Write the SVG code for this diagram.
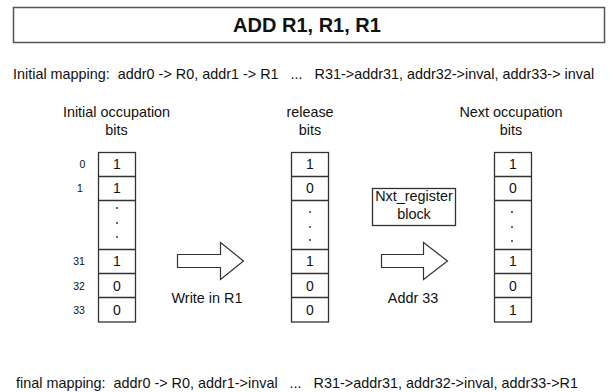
<svg xmlns="http://www.w3.org/2000/svg" width="614" height="392" viewBox="0 0 614 392">
<style>
text{font-family:"Liberation Sans",Arial,sans-serif;fill:#111}
.lbl{font-size:14.4px;text-anchor:middle}
.cell{font-size:14px;text-anchor:middle}
.idx{font-size:10.5px;text-anchor:middle}
.map{font-size:14.4px;white-space:pre}
.box{fill:#fff;stroke:#333;stroke-width:1.3}
.arrow{fill:#fff;stroke:#333;stroke-width:1.2;stroke-linejoin:miter}
.dot{fill:#222}
</style>
<rect width="614" height="392" fill="#fff"/>
<g id="title">
<rect x="13.5" y="7.5" width="591" height="35" fill="#fff" stroke="#555" stroke-width="1.5"/>
<text x="307" y="31.5" font-size="20" font-weight="bold" text-anchor="middle">ADD R1, R1, R1</text>
</g>
<g id="initial-mapping">
<text class="map" x="13" y="78.5" xml:space="preserve">Initial mapping:  addr0 -&gt; R0, addr1 -&gt; R1   ...   R31-&gt;addr31, addr32-&gt;inval, addr33-&gt; inval</text>
</g>
<g id="initial-bits">
<text class="lbl" x="116.5" y="117">Initial occupation</text>
<text class="lbl" x="116.5" y="135">bits</text>
<rect class="box" x="98.5" y="152.5" width="37" height="169.5"/>
<path d="M98.5 176.5H135.5M98.5 200.5H135.5M98.5 249.5H135.5M98.5 273.5H135.5M98.5 297.5H135.5" stroke="#333" stroke-width="1.3" fill="none"/>
<text class="cell" x="117" y="169">1</text>
<text class="cell" x="117" y="193">1</text>
<circle class="dot" cx="117" cy="208" r="0.9"/><circle class="dot" cx="117" cy="223" r="0.9"/><circle class="dot" cx="117" cy="237" r="0.9"/>
<text class="cell" x="117" y="266">1</text>
<text class="cell" x="117" y="290.5">0</text>
<text class="cell" x="117" y="314.5">0</text>
<text class="idx" x="82.5" y="168">0</text>
<text class="idx" x="80" y="192">1</text>
<text class="idx" x="79" y="265">31</text>
<text class="idx" x="79" y="289.5">32</text>
<text class="idx" x="79" y="313.5">33</text>
</g>
<g id="release-bits">
<text class="lbl" x="310" y="117">release</text>
<text class="lbl" x="310" y="135">bits</text>
<rect class="box" x="291.5" y="152.5" width="37" height="169.5"/>
<path d="M291.5 176.5H328.5M291.5 200.5H328.5M291.5 249.5H328.5M291.5 273.5H328.5M291.5 297.5H328.5" stroke="#333" stroke-width="1.3" fill="none"/>
<text class="cell" x="310" y="169">1</text>
<text class="cell" x="310" y="193">0</text>
<circle class="dot" cx="310" cy="212" r="0.9"/><circle class="dot" cx="310" cy="227" r="0.9"/><circle class="dot" cx="310" cy="240" r="0.9"/>
<text class="cell" x="310" y="266">1</text>
<text class="cell" x="310" y="290.5">0</text>
<text class="cell" x="310" y="314.5">0</text>
</g>
<g id="next-bits">
<text class="lbl" x="511" y="117">Next occupation</text>
<text class="lbl" x="511" y="135">bits</text>
<rect class="box" x="494.5" y="152.5" width="37" height="169.5"/>
<path d="M494.5 176.5H531.5M494.5 200.5H531.5M494.5 249.5H531.5M494.5 273.5H531.5M494.5 297.5H531.5" stroke="#333" stroke-width="1.3" fill="none"/>
<text class="cell" x="513" y="169">1</text>
<text class="cell" x="513" y="193">0</text>
<circle class="dot" cx="512" cy="212" r="0.9"/><circle class="dot" cx="512" cy="227" r="0.9"/><circle class="dot" cx="512" cy="241" r="0.9"/>
<text class="cell" x="513" y="266">1</text>
<text class="cell" x="513" y="290.5">0</text>
<text class="cell" x="513" y="314.5">1</text>
</g>
<g id="nxt-register">
<rect class="box" x="372.5" y="188.5" width="83" height="37"/>
<text class="lbl" x="414" y="201">Nxt_register</text>
<text class="lbl" x="414" y="219">block</text>
</g>
<g id="connectors">
<path class="arrow" d="M177.5 254.5H220.5V242.5L243.5 261L220.5 279.5V267.5H177.5Z"/>
<text class="lbl" x="207" y="303">Write in R1</text>
<path class="arrow" d="M381.5 254.5H423.5V242.5L447.5 261L423.5 279.5V267.5H381.5Z"/>
<text class="lbl" x="413" y="303">Addr 33</text>
</g>
<g id="final-mapping">
<text class="map" x="16" y="388" xml:space="preserve">final mapping:  addr0 -&gt; R0, addr1-&gt;inval   ...   R31-&gt;addr31, addr32-&gt;inval, addr33-&gt;R1</text>
</g>
</svg>
